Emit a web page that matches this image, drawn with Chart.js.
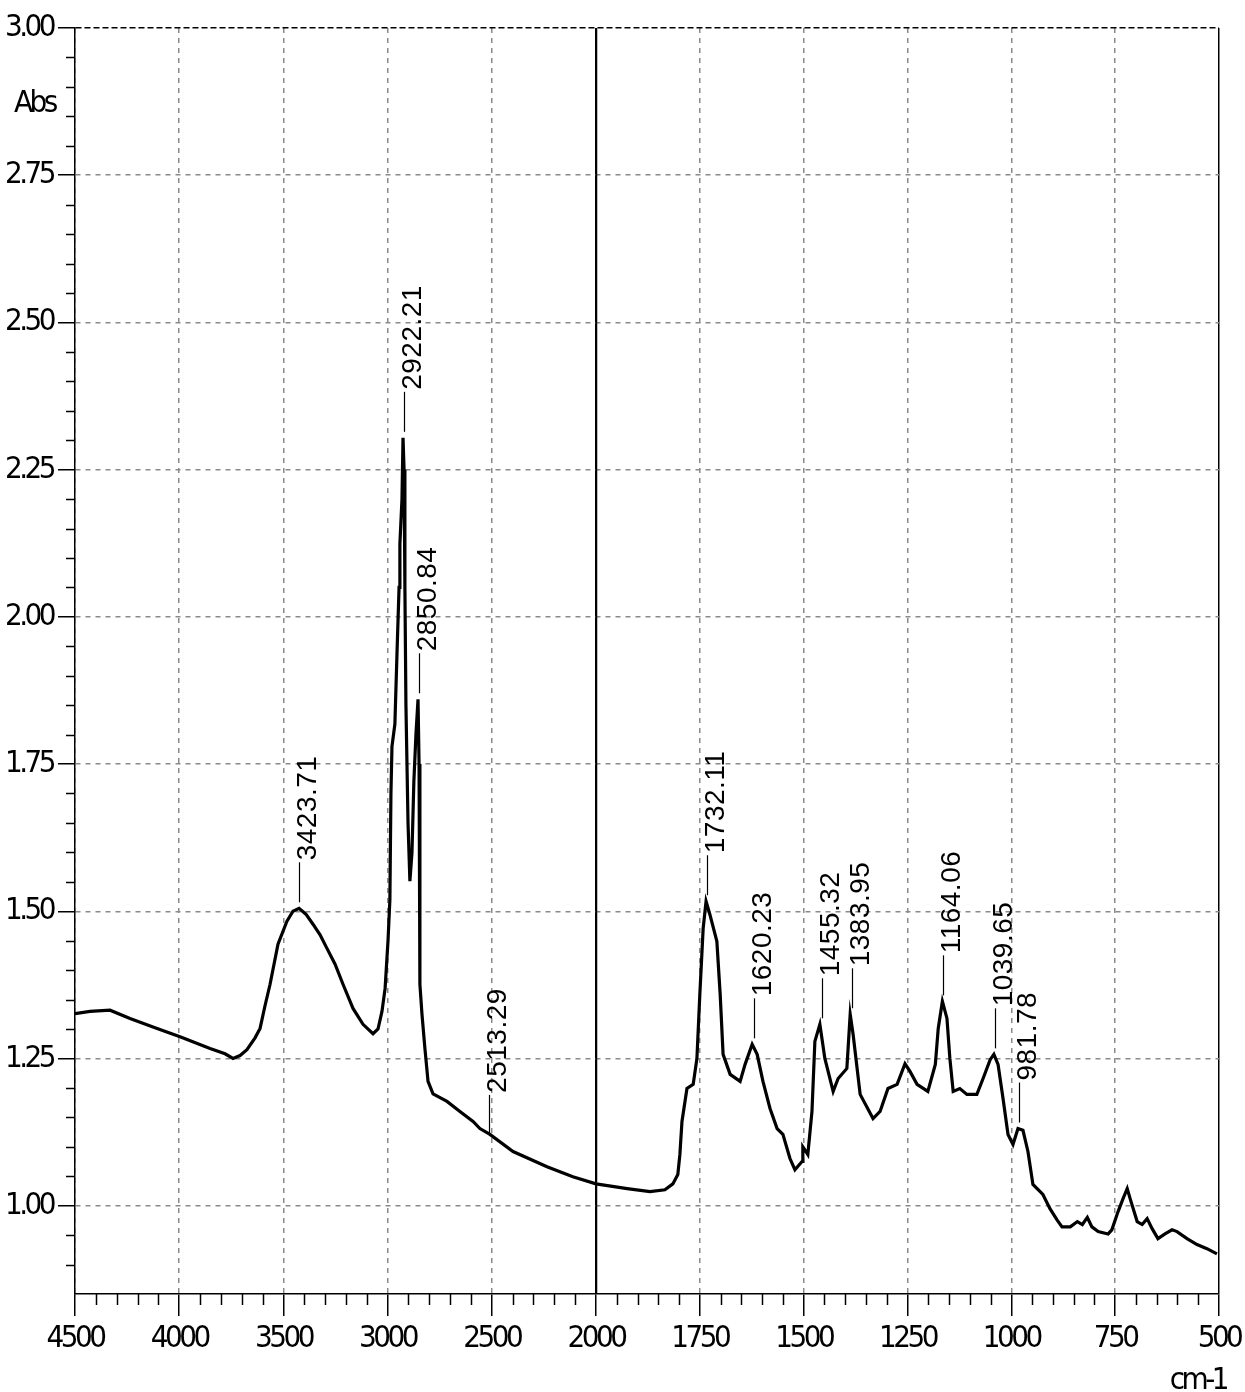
<!DOCTYPE html>
<html lang="en">
<head>
  <meta charset="UTF-8">
  <title>IR Spectrum</title>
  <script src="https://cdn.jsdelivr.net/npm/chart.js"></script>
  <style>
    html, body {
      margin: 0;
      padding: 0;
      background: #fff;
    }
    #spectrum {
      display: block;
    }
  </style>
</head>
<body>
  <canvas id="spectrum" width="1245" height="1392"></canvas>

  <script>
    // Spectrum (wavenumber in cm-1, absorbance)
    const waveNumbers = [
      4500, 4428, 4332, 4236, 4116, 3996, 3852, 3780, 3742, 3708, 3675, 3636, 3612, 3588, 3564,
      3526, 3483, 3454, 3425, 3392, 3358, 3324, 3291, 3252, 3214, 3166, 3118, 3070, 3046, 3027,
      3012, 2998, 2989, 2984, 2979, 2965, 2955, 2945, 2941, 2931, 2926, 2921, 2917, 2912, 2902,
      2893, 2883, 2874, 2864, 2854, 2849, 2845, 2835, 2821, 2806, 2782, 2715, 2653, 2590, 2557,
      2509, 2398, 2235, 2111, 2000,
      1925, 1870, 1834, 1815, 1803, 1798, 1793, 1781, 1766, 1757, 1750, 1742, 1735, 1726, 1709,
      1701, 1694, 1677, 1653, 1641, 1624, 1612, 1598, 1581, 1564, 1550, 1533, 1521, 1504, 1502,
      1490, 1480, 1473, 1461, 1449, 1429, 1417, 1396, 1388, 1381, 1364, 1333, 1316, 1297, 1275,
      1256, 1244, 1227, 1201, 1183, 1176, 1166, 1155, 1148, 1140, 1124, 1107, 1083, 1068, 1051,
      1042, 1032, 1020, 1008, 996, 984, 972, 960, 948, 924, 907, 890, 878, 858, 841,
      829, 817, 806, 791, 767, 758, 743, 731, 721, 714, 697, 685, 673, 661, 647,
      630, 613, 601, 577, 553, 529, 505
    ];
    const absorbance = [
      1.326, 1.330, 1.332, 1.318, 1.302, 1.287, 1.267, 1.258, 1.250, 1.255, 1.265, 1.285, 1.301, 1.340, 1.376,
      1.444, 1.483, 1.500, 1.505, 1.495, 1.478, 1.460, 1.437, 1.410, 1.376, 1.335, 1.308, 1.292, 1.300, 1.330,
      1.369, 1.450, 1.520, 1.700, 1.780, 1.818, 1.937, 2.050, 2.124, 2.200, 2.304, 2.250, 2.050, 1.850, 1.650,
      1.551, 1.600, 1.720, 1.800, 1.860, 1.750, 1.376, 1.325, 1.267, 1.211, 1.190, 1.177, 1.160, 1.143, 1.131,
      1.121, 1.092, 1.066, 1.049, 1.037,
      1.029, 1.024, 1.027, 1.037, 1.053, 1.087, 1.143, 1.199, 1.206, 1.250, 1.359, 1.471, 1.517, 1.495, 1.449,
      1.359, 1.257, 1.223, 1.211, 1.240, 1.274, 1.257, 1.211, 1.165, 1.131, 1.121, 1.080, 1.061, 1.075, 1.100,
      1.087, 1.160, 1.279, 1.308, 1.250, 1.194, 1.216, 1.233, 1.325, 1.291, 1.189, 1.148, 1.160, 1.199, 1.206,
      1.241, 1.228, 1.206, 1.194, 1.240, 1.301, 1.347, 1.318, 1.250, 1.194, 1.199, 1.189, 1.189, 1.216, 1.248,
      1.257, 1.240, 1.182, 1.121, 1.104, 1.131, 1.128, 1.092, 1.036, 1.019, 0.995, 0.976, 0.964, 0.964, 0.973,
      0.968, 0.980, 0.964, 0.956, 0.952, 0.959, 0.990, 1.012, 1.029, 1.012, 0.973, 0.968, 0.978, 0.961, 0.944,
      0.952, 0.959, 0.956, 0.944, 0.934, 0.927, 0.918
    ];

    // Axis ticks
    const xTickValues = [4500, 4000, 3500, 3000, 2500, 2000, 1750, 1500, 1250, 1000, 750, 500];
    const yTickValues = [1.00, 1.25, 1.50, 1.75, 2.00, 2.25, 2.50, 2.75, 3.00];

    // Peak annotations
    const peakLabels = ['3423.71', '2922.21', '2850.84', '2513.29', '1732.11', '1620.23',
                        '1455.32', '1383.95', '1164.06', '1039.65', '981.78'];
    const peakWaves = [3423.71, 2922.21, 2850.84, 2513.29, 1732.11, 1620.23,
                       1455.32, 1383.95, 1164.06, 1039.65, 981.78];
    const peakAbs = [1.505, 2.304, 1.860, 1.110, 1.517, 1.274, 1.308, 1.325, 1.347, 1.257, 1.131];

    // x axis is split at 2000 cm-1: the part above it is drawn at half the scale
    const BREAK_AT = 2000;
    const BREAK_FRACTION = 521 / 1144;

    class BrokenLinearScale extends Chart.LinearScale {
      buildTicks() {
        this.start = this.min;
        this.end = this.max;
        return xTickValues.map(v => ({ value: v }));
      }
      valueToDecimal(v) {
        if (v >= BREAK_AT) {
          return (this.max - v) / (this.max - BREAK_AT) * BREAK_FRACTION;
        }
        return BREAK_FRACTION + (BREAK_AT - v) / (BREAK_AT - this.min) * (1 - BREAK_FRACTION);
      }
      getPixelForValue(v) {
        return this.getPixelForDecimal(this.valueToDecimal(v));
      }
      getValueForPixel(p) {
        const d = this.getDecimalForPixel(p);
        if (d <= BREAK_FRACTION) {
          return this.max - d / BREAK_FRACTION * (this.max - BREAK_AT);
        }
        return BREAK_AT - (d - BREAK_FRACTION) / (1 - BREAK_FRACTION) * (BREAK_AT - this.min);
      }
    }
    BrokenLinearScale.id = 'brokenLinear';
    BrokenLinearScale.defaults = Chart.LinearScale.defaults;
    Chart.register(BrokenLinearScale);

    const axisFont = "'Liberation Sans Narrow', 'DejaVu Sans Condensed', sans-serif";
    const labelFont = "'Liberation Sans', Arial, sans-serif";
    const gridGrey = '#8a8a8a';

    // Minor ticks, peak labels and axis captions
    const spectrumDecor = {
      id: 'spectrumDecor',
      beforeDraw(chart) {
        chart.ctx.letterSpacing = '-3.5px';
      },
      afterDraw(chart) {
        const ctx = chart.ctx;
        const xs = chart.scales.x;
        const ys = chart.scales.y;
        const area = chart.chartArea;

        ctx.save();
        ctx.strokeStyle = '#000';
        ctx.lineWidth = 1.5;
        ctx.beginPath();
        for (let w = 4400; w > 2000; w -= 100) {
          if (w % 500 === 0) continue;
          const px = Math.round(xs.getPixelForValue(w)) + 0.5;
          ctx.moveTo(px, area.bottom);
          ctx.lineTo(px, area.bottom + 11);
        }
        for (let w = 1950; w > 500; w -= 50) {
          if (w % 250 === 0) continue;
          const px = Math.round(xs.getPixelForValue(w)) + 0.5;
          ctx.moveTo(px, area.bottom);
          ctx.lineTo(px, area.bottom + 11);
        }
        for (let k = 18; k < 60; k++) {
          if (k % 5 === 0) continue;
          const py = Math.round(ys.getPixelForValue(k * 0.05)) + 0.5;
          ctx.moveTo(area.left - 9, py);
          ctx.lineTo(area.left, py);
        }
        ctx.stroke();

        // solid break line at 2000
        const bx = Math.round(xs.getPixelForValue(BREAK_AT)) + 0.5;
        ctx.beginPath();
        ctx.moveTo(bx, area.top);
        ctx.lineTo(bx, area.bottom);
        ctx.stroke();

        // peak labels
        ctx.letterSpacing = '0.5px';
        ctx.font = '28px ' + labelFont;
        ctx.fillStyle = '#000';
        ctx.lineWidth = 1.2;
        peakLabels.forEach((label, i) => {
          const px = Math.round(xs.getPixelForValue(peakWaves[i])) + 0.5;
          const py = ys.getPixelForValue(peakAbs[i]);
          ctx.beginPath();
          ctx.moveTo(px, py - 6);
          ctx.lineTo(px, py - 46);
          ctx.stroke();
          ctx.save();
          ctx.translate(px + 9, py - 48);
          ctx.rotate(-Math.PI / 2);
          ctx.textAlign = 'left';
          ctx.textBaseline = 'middle';
          ctx.fillText(label, 0, 0);
          ctx.restore();
        });

        // axis captions
        ctx.letterSpacing = '-3.5px';
        ctx.font = '31px ' + axisFont;
        ctx.textBaseline = 'alphabetic';
        ctx.textAlign = 'left';
        ctx.fillText('Abs', 14, 112);
        ctx.textAlign = 'right';
        ctx.fillText('cm-1', 1226, 1389);
        ctx.restore();
      }
    };

    const ctx = document.getElementById('spectrum').getContext('2d');

    new Chart(ctx, {
      type: 'line',
      data: {
        datasets: [{
          data: waveNumbers.map((w, i) => ({ x: w, y: absorbance[i] })),
          borderColor: '#000',
          borderWidth: 3.2,
          pointRadius: 0,
          tension: 0,
          fill: false
        }]
      },
      options: {
        responsive: false,
        animation: false,
        devicePixelRatio: 1,
        layout: {
          padding: { top: 28, right: 26, bottom: 0, left: 0 }
        },
        plugins: {
          legend: { display: false },
          tooltip: { enabled: false }
        },
        scales: {
          x: {
            type: 'brokenLinear',
            min: 500,
            max: 4500,
            afterFit: scale => {
              scale.height = 98;
              scale.paddingLeft = 0;
              scale.paddingRight = 0;
            },
            ticks: {
              autoSkip: false,
              maxRotation: 0,
              minRotation: 0,
              padding: 4,
              color: '#000',
              font: { family: axisFont, size: 31 },
              callback: v => String(v)
            },
            grid: {
              color: c => (c.tick && (c.tick.value === 2000 || c.tick.value === 500)) ? '#000' : gridGrey,
              lineWidth: 1.5,
              tickColor: '#000',
              tickLength: 22,
              tickWidth: 1.5
            },
            border: {
              display: true,
              color: '#000',
              width: 1.5,
              dash: c => (c.tick && (c.tick.value === 2000 || c.tick.value === 500)) ? [] : [5, 5]
            }
          },
          y: {
            type: 'linear',
            min: 0.85,
            max: 3.00,
            afterFit: scale => {
              scale.width = 75;
              scale.paddingTop = 0;
              scale.paddingBottom = 0;
            },
            afterBuildTicks: scale => {
              scale.ticks = yTickValues.map(v => ({ value: v }));
            },
            ticks: {
              padding: 5,
              color: '#000',
              font: { family: axisFont, size: 31 },
              callback: v => Number(v).toFixed(2)
            },
            grid: {
              color: c => (c.tick && c.tick.value === 3.00) ? '#000' : gridGrey,
              lineWidth: 1.5,
              tickColor: '#000',
              tickLength: 17,
              tickWidth: 1.5
            },
            border: {
              display: true,
              color: '#000',
              width: 1.5,
              dash: c => (c.tick && c.tick.value === 3.00) ? [6, 3] : [5, 5]
            }
          }
        }
      },
      plugins: [spectrumDecor]
    });
  </script>
</body>
</html>
